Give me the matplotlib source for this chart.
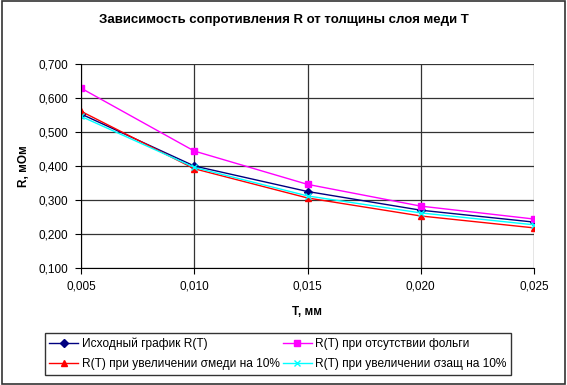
import numpy as np
import matplotlib.pyplot as plt
from matplotlib.ticker import FuncFormatter

plt.rcParams['font.family'] = ['Liberation Sans', 'DejaVu Sans']

# data
T = [0.005, 0.010, 0.015, 0.020, 0.025]
r_base = [0.553, 0.400, 0.325, 0.270, 0.235]
r_no_foil = [0.629, 0.444, 0.346, 0.282, 0.244]
r_cu10 = [0.561, 0.392, 0.306, 0.253, 0.218]
r_prot10 = [0.546, 0.396, 0.312, 0.262, 0.227]

labels = ['Исходный график R(T)', 'R(T) при отсутствии фольги',
          'R(T) при увеличении σмеди на 10%', 'R(T) при увеличении σзащ на 10%']

fig = plt.figure(figsize=(5.67, 3.85), dpi=100)
fig.patches.append(plt.Rectangle((0.003, 0.003), 0.994, 0.994, transform=fig.transFigure,
                                 fill=False, edgecolor='#333333', lw=1.2))
ax = fig.add_axes([81/567, 1 - 268/385, (534-81)/567, (268-64)/385])

h1, = ax.plot(T, r_base, color='#000080', marker='D', ms=4, lw=1, label=labels[0])
h2, = ax.plot(T, r_no_foil, color='#FF00FF', marker='s', ms=5, lw=1, label=labels[1])
h3, = ax.plot(T, r_cu10, color='#FF0000', marker='^', ms=5, lw=1, label=labels[2])
h4, = ax.plot(T, r_prot10, color='#00FFFF', marker='x', ms=5, lw=1, label=labels[3])

ax.set_xlim(0.005, 0.025)
ax.set_ylim(0.1, 0.7)
ax.set_xticks(T)
ax.set_yticks(np.arange(0.1, 0.701, 0.1))
ax.xaxis.set_major_formatter(FuncFormatter(lambda v, p: f'{v:.3f}'.replace('.', ',')))
ax.yaxis.set_major_formatter(FuncFormatter(lambda v, p: f'{v:.3f}'.replace('.', ',')))
ax.grid(True, color='#333333', lw=0.9)
ax.set_axisbelow(True)
for s in ['top', 'right']:
    ax.spines[s].set_visible(False)
for s in ['left', 'bottom']:
    ax.spines[s].set_color('black')
ax.tick_params(labelsize=8.5, length=4, color='black', direction='out', pad=5)

ax.set_xlabel('T, мм', fontsize=8.5, fontweight='bold', labelpad=10)
ax.set_ylabel('R, мОм', fontsize=8.5, fontweight='bold', labelpad=6)
fig.text(0.5, 1 - 20/385, 'Зависимость сопротивления R от толщины слоя меди T',
         ha='center', va='center', fontsize=9.5, fontweight='bold')

leg = fig.legend([h1, h3, h2, h4], [labels[0], labels[2], labels[1], labels[3]],
                 loc='center', bbox_to_anchor=(278/567, 1 - 354/385), ncol=2,
                 fontsize=8.6, frameon=True, fancybox=False, edgecolor='black',
                 handlelength=2.4, handletextpad=0.3, columnspacing=0.3,
                 labelspacing=0.65, borderpad=0.4)
leg.get_frame().set_linewidth(1)

fig.savefig('out.png', dpi=100)
